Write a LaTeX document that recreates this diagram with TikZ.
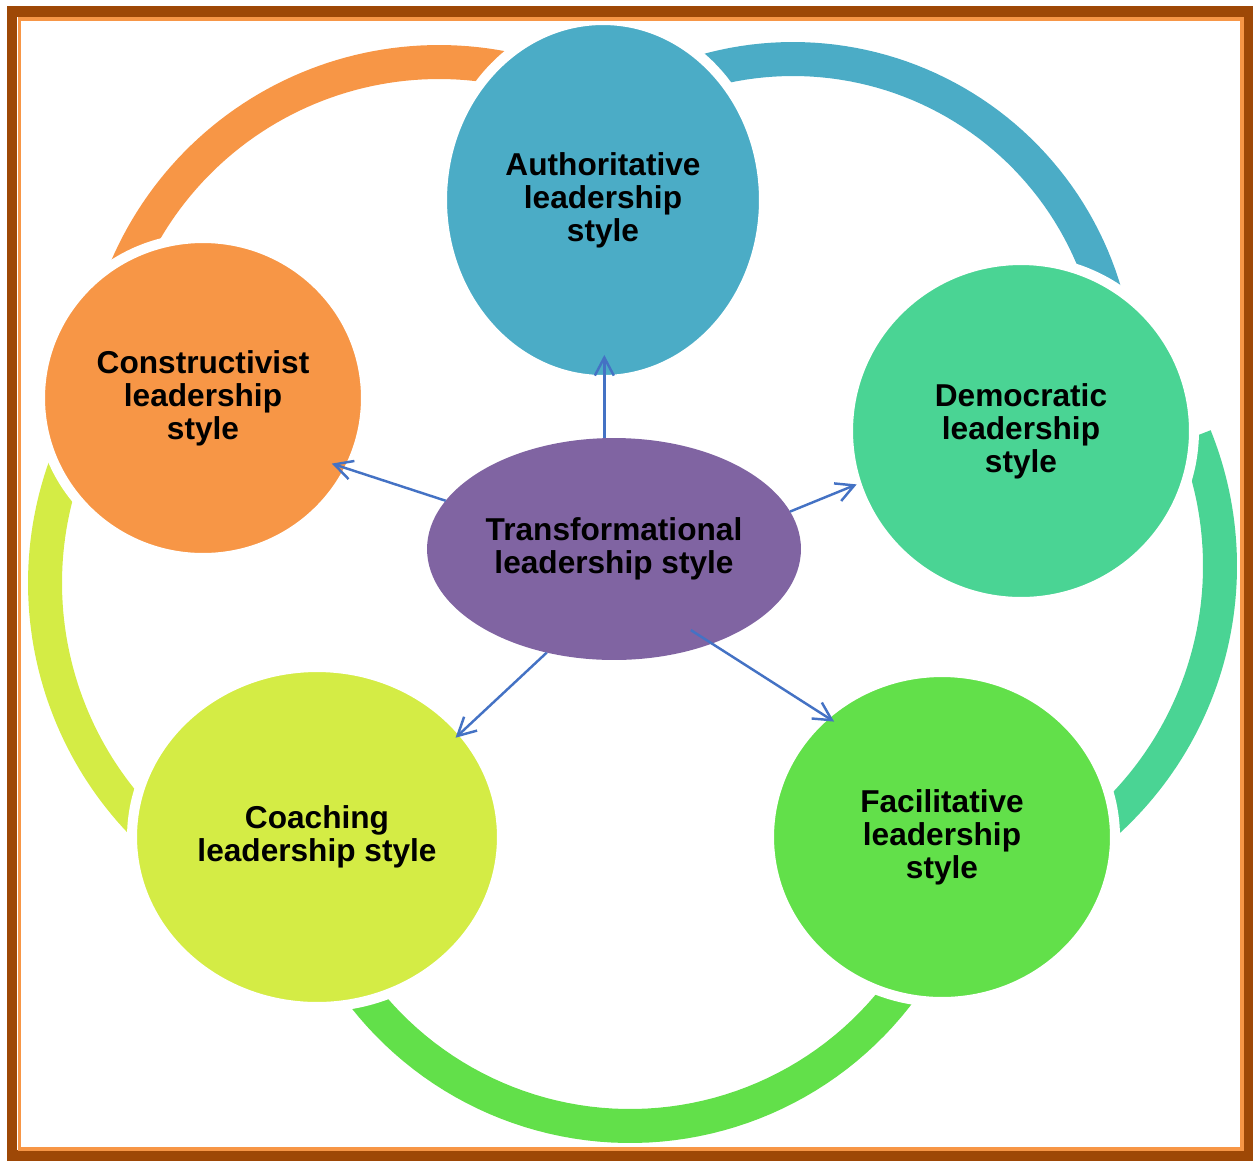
\documentclass[tikz,border=0pt]{standalone}
\usepackage{fontspec}
\setmainfont{Liberation Sans}
\usetikzlibrary{shapes.geometric, arrows.meta}

\definecolor{authblue}{RGB}{75,172,198}
\definecolor{demgreen}{RGB}{74,212,148}
\definecolor{facgreen}{RGB}{98,224,74}
\definecolor{coachyellow}{RGB}{212,236,69}
\definecolor{consorange}{RGB}{247,150,70}
\definecolor{transpurple}{RGB}{128,100,162}
\definecolor{linkblue}{RGB}{68,114,196}
\definecolor{framebrown}{RGB}{158,72,6}

\begin{document}
\begin{tikzpicture}[x=0.02cm, y=-0.02cm,
  ring/.style={line width=0.68cm},
  leader/.style={ellipse, draw=white, line width=0.2cm, inner sep=0pt, outer sep=0pt,
    align=center, font=\bfseries\fontsize{18}{18.7}\selectfont},
  link/.style={draw=linkblue, line width=1.4pt, -{Straight Barb[length=3.6mm, width=3.8mm]}}]
\useasboundingbox (0,0) rectangle (1253,1160);

% Draw cycle arcs.
\draw[ring, consorange] plot[domain=200:290, samples=60] ({439+340*cos(\x)}, {402+340*sin(\x)});
\draw[ring, authblue] plot[domain=240:344, samples=60] ({793+325*cos(\x)}, {384+325*sin(\x)});
\draw[ring, demgreen] plot[domain=-22:52, samples=60] ({874+346*cos(\x)}, {566+346*sin(\x)});
\draw[ring, facgreen] plot[domain=30:150, samples=60] ({630+338*cos(\x)}, {788+338*sin(\x)});
\draw[ring, coachyellow] plot[domain=130:206, samples=60] ({391+346*cos(\x)}, {583+346*sin(\x)});

% Draw styles.
\node[leader, fill=authblue, minimum width=6.44cm, minimum height=7.2cm] (auth) at (603,200)
  {Authoritative\\leadership\\style};
\node[leader, fill=demgreen, minimum width=6.92cm, minimum height=6.84cm] (democ) at (1021,431)
  {Democratic\\leadership\\style};
\node[leader, fill=facgreen, minimum width=6.92cm, minimum height=6.6cm] (facil) at (942,837)
  {Facilitative\\leadership\\style};
\node[leader, fill=coachyellow, minimum width=7.4cm, minimum height=6.8cm] (coach) at (317,837)
  {Coaching\\leadership style};
\node[leader, fill=consorange, minimum width=6.52cm, minimum height=6.4cm] (constr) at (203,398)
  {Constructivist\\leadership\\style};
\node[leader, draw=none, fill=transpurple, minimum width=7.48cm, minimum height=4.44cm] (trans) at (614,549)
  {Transformational\\leadership style};

% Draw links.
\draw[link, shorten >=-0.5cm] (trans.95) -- (trans.95 |- auth.south);
\draw[link, shorten >=-0.36cm] (trans.164) -- (constr.-26);
\draw[link] (trans.12) -- (democ.198);
\draw[link, shorten >=-0.18cm] (trans.237) -- (coach.36);
\draw[link, shorten <=-0.5cm, shorten >=-0.22cm] (trans.-44) -- (facil.134);

% Draw frame.
\draw[framebrown, line width=0.21cm] (12,11.5) rectangle (1248,1155.5);
\draw[consorange, line width=0.08cm] (19.5,19) rectangle (1241.5,1149);

\end{tikzpicture}
\end{document}
